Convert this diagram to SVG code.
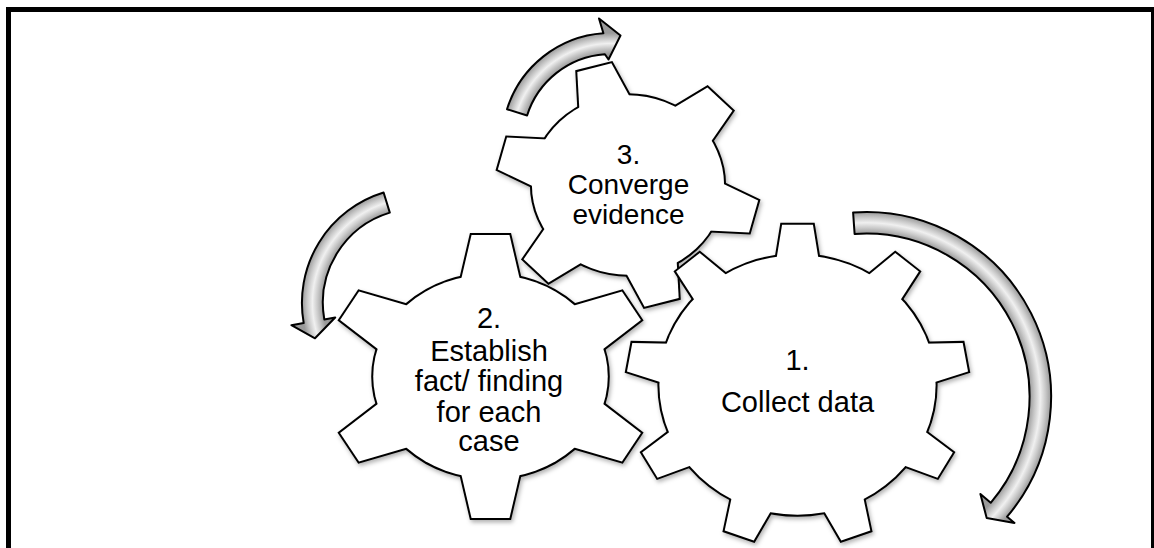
<svg xmlns="http://www.w3.org/2000/svg" width="1154" height="548" viewBox="0 0 1154 548">
  <style>
    .edge { fill: #fff; stroke: #000; stroke-width: 4; stroke-linejoin: miter; }
    .face { fill: #fff; stroke: none; }
    .label { font-family: "Liberation Sans", Arial, sans-serif; fill: #000; text-anchor: middle; }
    .arrow { stroke: #000; stroke-width: 2; stroke-linejoin: round; }
  </style>
  <defs>
    <filter id="shade" x="-10%" y="-10%" width="125%" height="125%">
      <feDropShadow dx="1.5" dy="2.5" stdDeviation="2" flood-color="#000" flood-opacity="0.3"/>
    </filter>
    <!-- single teeth, pointing up from the gear centre -->
    <polygon id="tooth9" points="-22.2,-110 -14.5,-160.2 14.5,-160.2 22.2,-110" vector-effect="non-scaling-stroke"/>
    <polygon id="tooth6a" points="-29,-80 -16.5,-141.5 16.5,-141.5 29,-80" vector-effect="non-scaling-stroke"/>
    <polygon id="tooth6b" points="-27.5,-70 -16.5,-121.5 16.5,-121.5 27.5,-70" vector-effect="non-scaling-stroke"/>
    <!-- tube shading for the curved arrows -->
    <radialGradient id="tube1" gradientUnits="userSpaceOnUse" cx="611" cy="142" r="109">
      <stop offset="0.807" stop-color="#9a9a9a"/>
      <stop offset="0.86" stop-color="#c8c8c8"/>
      <stop offset="0.904" stop-color="#f0f0f0"/>
      <stop offset="0.95" stop-color="#c8c8c8"/>
      <stop offset="1" stop-color="#9a9a9a"/>
    </radialGradient>
    <radialGradient id="tube2" gradientUnits="userSpaceOnUse" cx="417.4" cy="303" r="115.5">
      <stop offset="0.818" stop-color="#9a9a9a"/>
      <stop offset="0.864" stop-color="#c8c8c8"/>
      <stop offset="0.909" stop-color="#f0f0f0"/>
      <stop offset="0.955" stop-color="#c8c8c8"/>
      <stop offset="1" stop-color="#9a9a9a"/>
    </radialGradient>
    <radialGradient id="tube3" gradientUnits="userSpaceOnUse" cx="866" cy="397" r="185">
      <stop offset="0.884" stop-color="#9a9a9a"/>
      <stop offset="0.913" stop-color="#c8c8c8"/>
      <stop offset="0.942" stop-color="#f0f0f0"/>
      <stop offset="0.971" stop-color="#c8c8c8"/>
      <stop offset="1" stop-color="#9a9a9a"/>
    </radialGradient>
  </defs>

  <rect x="0" y="0" width="1154" height="548" fill="#fff"/>
  <rect x="8.5" y="9.5" width="1145" height="560" fill="none" stroke="#000" stroke-width="5"/>

  <!-- gear 3 -->
  <g id="gear3">
    <g filter="url(#shade)">
      <g transform="translate(628 185) scale(1.07 1)">
        <g class="edge">
          <circle r="89.8" vector-effect="non-scaling-stroke"/>
          <use href="#tooth6b" transform="rotate(45)"/>
          <use href="#tooth6b" transform="rotate(105)"/>
          <use href="#tooth6b" transform="rotate(165)"/>
          <use href="#tooth6b" transform="rotate(225)"/>
          <use href="#tooth6b" transform="rotate(285)"/>
          <use href="#tooth6b" transform="rotate(345)"/>
        </g>
        <g class="face">
          <circle r="89.8"/>
          <use href="#tooth6b" transform="rotate(45)"/>
          <use href="#tooth6b" transform="rotate(105)"/>
          <use href="#tooth6b" transform="rotate(165)"/>
          <use href="#tooth6b" transform="rotate(225)"/>
          <use href="#tooth6b" transform="rotate(285)"/>
          <use href="#tooth6b" transform="rotate(345)"/>
        </g>
      </g>
    </g>
    <text class="label" font-size="28" x="628.5" y="163.5">3.</text>
    <text class="label" font-size="28" x="628.5" y="193.5">Converge</text>
    <text class="label" font-size="28" x="628.5" y="224">evidence</text>
  </g>

  <!-- gear 2 -->
  <g id="gear2">
    <g filter="url(#shade)">
      <g transform="translate(490.5 376.5) scale(1.15 1)">
        <g class="edge">
          <circle r="102" vector-effect="non-scaling-stroke"/>
          <use href="#tooth6a" transform="rotate(0)"/>
          <use href="#tooth6a" transform="rotate(60)"/>
          <use href="#tooth6a" transform="rotate(120)"/>
          <use href="#tooth6a" transform="rotate(180)"/>
          <use href="#tooth6a" transform="rotate(240)"/>
          <use href="#tooth6a" transform="rotate(300)"/>
        </g>
        <g class="face">
          <circle r="102"/>
          <use href="#tooth6a" transform="rotate(0)"/>
          <use href="#tooth6a" transform="rotate(60)"/>
          <use href="#tooth6a" transform="rotate(120)"/>
          <use href="#tooth6a" transform="rotate(180)"/>
          <use href="#tooth6a" transform="rotate(240)"/>
          <use href="#tooth6a" transform="rotate(300)"/>
        </g>
      </g>
    </g>
    <text class="label" font-size="29" x="489" y="328">2.</text>
    <text class="label" font-size="29" x="489" y="361">Establish</text>
    <text class="label" font-size="29" x="489" y="391">fact/ finding</text>
    <text class="label" font-size="29" x="489" y="421.5">for each</text>
    <text class="label" font-size="29" x="489" y="451">case</text>
  </g>

  <!-- gear 1 -->
  <g id="gear1">
    <g filter="url(#shade)">
      <g transform="translate(797.5 385) scale(1.064 1)">
        <g class="edge">
          <circle r="129.8" vector-effect="non-scaling-stroke"/>
          <use href="#tooth9" transform="rotate(0)"/>
          <use href="#tooth9" transform="rotate(40)"/>
          <use href="#tooth9" transform="rotate(80)"/>
          <use href="#tooth9" transform="rotate(120)"/>
          <use href="#tooth9" transform="rotate(160)"/>
          <use href="#tooth9" transform="rotate(200)"/>
          <use href="#tooth9" transform="rotate(240)"/>
          <use href="#tooth9" transform="rotate(280)"/>
          <use href="#tooth9" transform="rotate(320)"/>
        </g>
        <g class="face">
          <circle r="129.8"/>
          <use href="#tooth9" transform="rotate(0)"/>
          <use href="#tooth9" transform="rotate(40)"/>
          <use href="#tooth9" transform="rotate(80)"/>
          <use href="#tooth9" transform="rotate(120)"/>
          <use href="#tooth9" transform="rotate(160)"/>
          <use href="#tooth9" transform="rotate(200)"/>
          <use href="#tooth9" transform="rotate(240)"/>
          <use href="#tooth9" transform="rotate(280)"/>
          <use href="#tooth9" transform="rotate(320)"/>
        </g>
      </g>
    </g>
    <text class="label" font-size="29" x="797.5" y="369.5">1.</text>
    <text class="label" font-size="29" x="797.5" y="411.5">Collect data</text>
  </g>

  <!-- curved arrows -->
  <g id="connectors">
    <path class="arrow" fill="url(#tube1)" d="M 507 109.2 A 109 109 0 0 1 603.4 33.3 L 599 18.5 L 620.5 35.5 L 608.5 59.5 L 604.9 54.2 A 88 88 0 0 0 527.1 115.5 Z"/>
    <path class="arrow" fill="url(#tube2)" d="M 383.6 192.5 A 115.5 115.5 0 0 0 303.7 323.1 L 291.4 325.2 L 315 338.3 L 335.2 317.5 L 324.3 319.4 A 94.5 94.5 0 0 1 389.8 212.6 Z"/>
    <path class="arrow" fill="url(#tube3)" d="M 853.1 212.4 A 185 185 0 0 1 1007.1 516.7 L 1014.5 522.9 L 986.7 518.1 L 980.4 494 L 990.7 502.8 A 163.5 163.5 0 0 0 854.6 233.9 Z"/>
  </g>
</svg>
